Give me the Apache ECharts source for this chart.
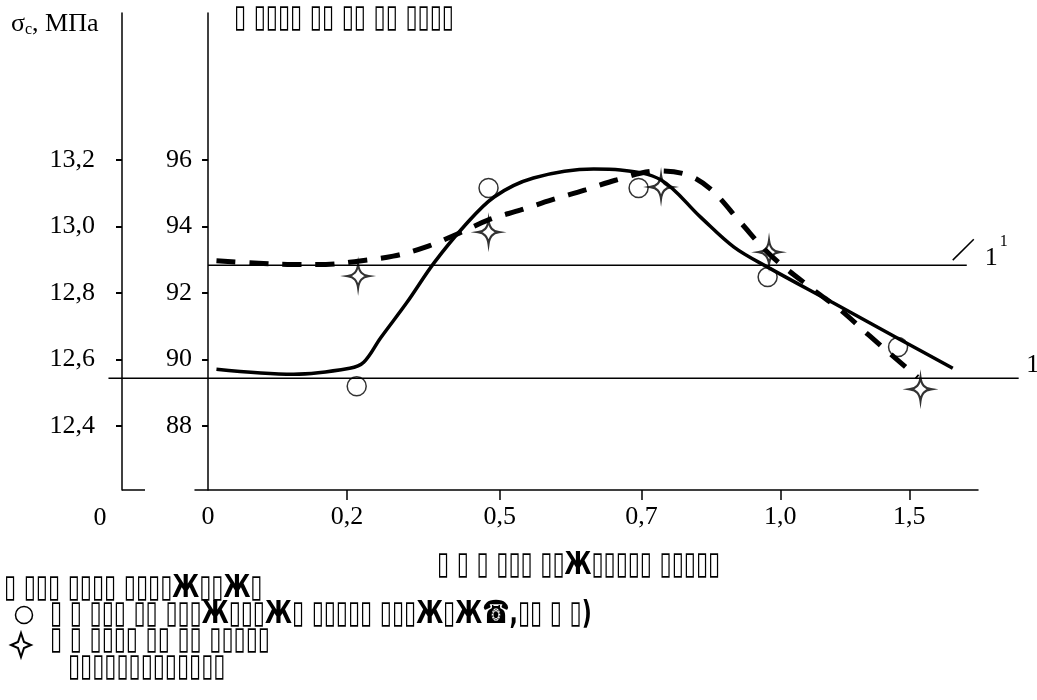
<!DOCTYPE html>
<html>
<head>
<meta charset="utf-8">
<script src="https://cdn.jsdelivr.net/npm/echarts@6/dist/echarts.min.js"></script>
<style>
  html, body { margin: 0; padding: 0; background: #fff; }
  #chart { width: 1037px; height: 700px; }
</style>
</head>
<body>
<div id="chart"></div>
<script>
// x axis is an ordinal scale: ticks sit at these slots, labels below them
var xTickLabels = ['0', '0,2', '0,5', '0,7', '1,0', '1,5'];
var xTickAt = [0, 0.99, 2.08, 3.09, 4.08, 5];
var yTicks = [88, 90, 92, 94, 96];
var sigmaTicks = [12.4, 12.6, 12.8, 13.0, 13.2];

// measured points
var circleX = [1.06, 2.0, 3.07, 3.99, 4.92];
var circleY = [89.2, 95.16, 95.16, 92.48, 90.38];
var starX = [1.07, 2.0, 3.23, 4.0, 5.08];
var starY = [92.51, 93.83, 95.19, 93.23, 89.11];

// fitted curves (traced)
var solidCurve = [[0.06, 89.71], [0.61, 89.56], [1.01, 89.74], [1.11, 89.92], [1.23, 90.65], [1.42, 91.73],
  [1.61, 92.90], [1.82, 93.98], [2.04, 94.89], [2.32, 95.46], [2.75, 95.73], [2.94, 95.70], [3.23, 95.40],
  [3.51, 94.29], [3.75, 93.38], [3.99, 92.78], [4.46, 91.70], [4.94, 90.59], [5.31, 89.74]];
var dashedCurve = [[0.06, 92.97], [0.36, 92.90], [0.60, 92.86], [0.84, 92.86], [1.07, 92.96], [1.32, 93.11],
  [1.55, 93.38], [1.79, 93.80], [2.0, 94.2], [2.23, 94.5], [2.45, 94.8], [2.69, 95.1], [2.91, 95.4],
  [3.2, 95.67], [3.42, 95.55], [3.59, 95.10], [3.80, 94.11], [4.01, 93.14], [4.32, 92.09], [4.51, 91.49],
  [4.71, 90.74], [4.89, 90.08], [5.06, 89.47]];

// reference levels 1 and 1^1
var level1 = [[-0.71, 89.44], [5.78, 89.44]];
var level11 = [[0, 92.84], [5.41, 92.84]];
var slash1 = [[5.62, 89.44], [5.77, 90.11]];
var slash11 = [[5.31, 92.99], [5.46, 93.62]];

var titleLeft = 'σ';
var titleUnit = ', МПа';
var titleRight = '▯ ▯▯▯▯ ▯▯ ▯▯ ▯▯ ▯▯▯▯';
var xName = '▯ ▯ ▯ ▯▯▯ ▯▯Ж▯▯▯▯▯ ▯▯▯▯▯';
var legendHead = '▯ ▯▯▯ ▯▯▯▯ ▯▯▯▯Ж▯▯Ж▯';
var legendCircle = '▯ ▯ ▯▯▯ ▯▯ ▯▯▯Ж▯▯▯Ж▯ ▯▯▯▯▯ ▯▯▯Ж▯Ж☎,▯▯ ▯ ▯)';
var legendStar = '▯ ▯ ▯▯▯▯ ▯▯ ▯▯ ▯▯▯▯▯';
var legendTail = '▯▯▯▯▯▯▯▯▯▯▯▯▯';

var serif = 'Liberation Serif';
var boxFont = 'bold 22px DejaVu Sans';
var starPath = 'path://M0,-12 C1,-4 4,-1 10,0 C4,1 1,4 0,12 C-1,4 -4,1 -10,0 C-4,-1 -1,-4 0,-12 Z';

var gridLeft = 195, gridTop = 13, gridRight = 59, gridBottom = 210;
var sigmaOffset = 73;
var yMin = 86.08, yMax = 100.42;

var dom = document.getElementById('chart');
var myChart = echarts.init(dom, null, { renderer: 'canvas' });

function nearestLabel(v) {
    var best = 0;
    for (var i = 0; i < xTickAt.length; i++) {
        if (Math.abs(xTickAt[i] - v) < Math.abs(xTickAt[best] - v)) best = i;
    }
    return xTickLabels[best];
}

var option = {
    animation: false,
    backgroundColor: '#fff',
    title: {
        text: '{s|' + titleLeft + '}{c|c}{s|' + titleUnit + '}',
        left: 6, top: 5,
        textStyle: {
            fontWeight: 'normal',
            rich: {
                s: { fontFamily: serif, fontSize: 26, fontWeight: 'normal', color: '#000' },
                c: { fontFamily: serif, fontSize: 16, fontWeight: 'normal', color: '#000', padding: [12, 0, 0, 0] }
            }
        }
    },
    grid: { left: gridLeft, right: gridRight, top: gridTop, bottom: gridBottom, containLabel: false },
    xAxis: {
        type: 'value', min: -0.093, max: 5.49,
        axisLine: { onZero: false, lineStyle: { color: '#000', width: 1.5 } },
        axisTick: { customValues: xTickAt.slice(1), length: 10, lineStyle: { color: '#000', width: 1.5 } },
        axisLabel: {
            customValues: xTickAt, formatter: nearestLabel, margin: 14,
            fontFamily: serif, fontSize: 26, color: '#000'
        },
        splitLine: { show: false }
    },
    yAxis: [
        {
            type: 'value', min: yMin, max: yMax,
            axisLine: { show: true, onZero: true, lineStyle: { color: '#000', width: 1.5 } },
            axisTick: { show: true, customValues: yTicks, length: 6, lineStyle: { color: '#000', width: 2 } },
            axisLabel: { customValues: yTicks, margin: 3, fontFamily: serif, fontSize: 26, color: '#000' },
            splitLine: { show: false }
        },
        {
            type: 'value', position: 'left', offset: sigmaOffset,
            min: 12.4 + (yMin - 88) * 0.1, max: 12.4 + (yMax - 88) * 0.1,
            axisLine: { show: true, onZero: false, lineStyle: { color: '#000', width: 1.5 } },
            axisTick: { show: true, customValues: sigmaTicks, length: 6, lineStyle: { color: '#000', width: 2 } },
            axisLabel: {
                customValues: sigmaTicks, margin: 27,
                formatter: function (v) { return v.toFixed(1).replace('.', ','); },
                fontFamily: serif, fontSize: 26, color: '#000'
            },
            splitLine: { show: false }
        }
    ],
    series: [
        {
            type: 'scatter', name: 'circles', z: 1,
            data: circleX.map(function (x, i) { return [x, circleY[i]]; }),
            symbol: 'circle', symbolSize: 19,
            itemStyle: { color: 'rgba(255,255,255,0)', borderColor: '#000', borderWidth: 1.5 }
        },
        {
            type: 'scatter', name: 'stars', z: 1,
            data: starX.map(function (x, i) { return [x, starY[i]]; }),
            symbol: starPath, symbolSize: [21, 24],
            itemStyle: { color: '#fff', borderColor: '#000', borderWidth: 2.2 }
        },
        {
            type: 'line', name: 'solid', z: 3, data: solidCurve, smooth: 0.35,
            showSymbol: false, lineStyle: { color: '#000', width: 3.5 }
        },
        {
            type: 'line', name: 'dashed', z: 3, data: dashedCurve, smooth: 0.35,
            showSymbol: false, lineStyle: { color: '#000', width: 5, type: [19, 14] }
        },
        { type: 'line', z: 2, data: slash1, clip: false, showSymbol: false, lineStyle: { color: '#000', width: 1.5 } },
        { type: 'line', z: 2, data: slash11, clip: false, showSymbol: false, lineStyle: { color: '#000', width: 1.5 } }
    ]
};

myChart.setOption(option);

// decorations placed from the axes
function px(pt) { return myChart.convertToPixel({ xAxisIndex: 0, yAxisIndex: 0 }, pt); }
var a1 = px(level1[0]), b1 = px(level1[1]);
var a11 = px(level11[0]), b11 = px(level11[1]);
var p11 = px(slash11[1]);
var p1 = px(slash1[1]);
var sigmaX = gridLeft - sigmaOffset;
var bottomY = 700 - gridBottom;
var starPoly = [[0, -12], [3, -3], [10, 0], [3, 3], [0, 12], [-3, 3], [-10, 0], [-3, -3]];
var thin = { stroke: '#000', lineWidth: 1.5 };

function boxText(str, x, y) {
    return { type: 'text', x: x, y: y, scaleY: 1.45, style: { text: str, font: boxFont, fill: '#000', verticalAlign: 'middle' } };
}

myChart.setOption({
    graphic: [
        { type: 'line', shape: { x1: a1[0], y1: a1[1], x2: b1[0], y2: b1[1] }, style: thin, z: 2 },
        { type: 'line', shape: { x1: a11[0], y1: a11[1], x2: b11[0], y2: b11[1] }, style: thin, z: 2 },
        { type: 'line', shape: { x1: sigmaX, y1: bottomY, x2: sigmaX + 23, y2: bottomY }, style: thin },
        { type: 'text', x: sigmaX - 22, y: bottomY + 28, style: { text: '0', font: '26px ' + serif, fill: '#000', align: 'center', verticalAlign: 'middle' } },
        { type: 'text', x: p11[0] + 11, y: p11[1] + 19, style: { text: '1', font: '26px ' + serif, fill: '#000', align: 'left', verticalAlign: 'middle' } },
        { type: 'text', x: p11[0] + 26, y: p11[1] + 3, style: { text: '1', font: '16px ' + serif, fill: '#000', align: 'left', verticalAlign: 'middle' } },
        { type: 'text', x: p1[0] + 9, y: p1[1] + 9, style: { text: '1', font: '26px ' + serif, fill: '#000', align: 'left', verticalAlign: 'middle' } },
        boxText(titleRight, 234, 19),
        boxText(xName, 437, 566),
        boxText(legendHead, 4, 589),
        { type: 'circle', shape: { cx: 24, cy: 615, r: 8.5 }, style: { fill: 'none', stroke: '#000', lineWidth: 1.5 } },
        boxText(legendCircle, 50, 615),
        { type: 'polygon', shape: { points: starPoly }, x: 21, y: 645, style: { fill: '#fff', stroke: '#000', lineWidth: 2 } },
        boxText(legendStar, 50, 641),
        boxText(legendTail, 68, 668)
    ]
});

window.addEventListener('resize', myChart.resize);
</script>
</body>
</html>
